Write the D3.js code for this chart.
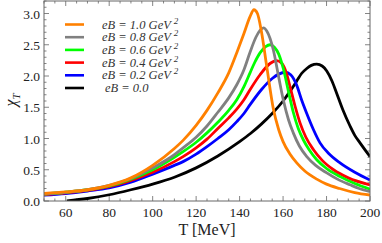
<!DOCTYPE html>
<html>
<head>
<meta charset="utf-8">
<script src="https://cdn.jsdelivr.net/npm/d3@7"></script>
<style>
  body { margin: 0; background: #fff; }
  svg { display: block; font-family: "Liberation Serif", "DejaVu Serif", serif; }
</style>
</head>
<body>
<div id="chart"></div>
<script>
var svgWidth = 382;
var svgHeight = 243;

// plot frame
var margin = { top: 1, right: 12, bottom: 42, left: 44 };
var width = svgWidth - margin.left - margin.right;
var height = svgHeight - margin.top - margin.bottom;

// legend labels (eB values), colours in the same order
var fieldLabels = ["1.0", "0.8", "0.6", "0.4", "0.2", "0.0"];
var colors = ["#ff8000", "#808080", "#00ff00", "#ff0000", "#0000ff", "#000000"];

// chi_T vs T [MeV]
var eB10 = [[50,0.12],[60,0.145],[70,0.18],[80,0.25],[90,0.37],[100,0.57],[110,0.84],[114,0.97],[120,1.21],[125,1.45],[130,1.73],[135,2.05],[139,2.4],[142,2.68],[144.8,2.95],[146.6,3.06],[148.2,3.0],[150,2.72],[152.5,2.15],[155.5,1.48],[158,1.14],[160,0.95],[163,0.76],[166.3,0.61],[170,0.48],[175.5,0.35],[180,0.27],[186,0.2],[193,0.135],[200,0.096]];
var eB08 = [[50,0.11],[60,0.14],[70,0.18],[80,0.25],[90,0.36],[100,0.53],[110,0.74],[114,0.85],[120,1.02],[125,1.2],[130,1.42],[135,1.65],[138.7,1.86],[142,2.1],[144.8,2.38],[147.5,2.62],[149.4,2.73],[151,2.77],[152.5,2.72],[155.5,2.42],[158,1.98],[160.1,1.62],[162.5,1.3],[164.7,1.09],[167.5,0.88],[170.9,0.71],[175,0.57],[180.1,0.45],[185,0.35],[190.8,0.26],[195,0.2],[200,0.15]];
var eB06 = [[50,0.11],[60,0.14],[70,0.18],[80,0.24],[90,0.35],[100,0.5],[110,0.7],[114,0.79],[120,0.94],[125,1.09],[130,1.26],[135,1.45],[138.7,1.62],[142,1.83],[144.8,2.05],[147,2.22],[149.4,2.37],[152,2.47],[154,2.5],[156,2.46],[158,2.35],[160.1,2.12],[162.5,1.75],[164.7,1.42],[167,1.16],[169.3,0.98],[172,0.82],[175.5,0.66],[180,0.52],[186.2,0.39],[193,0.28],[200,0.19]];
var eB04 = [[50,0.1],[60,0.13],[70,0.17],[80,0.23],[90,0.33],[100,0.46],[110,0.63],[114,0.71],[120,0.85],[125,0.99],[130,1.16],[135,1.33],[138.7,1.47],[142,1.62],[144.8,1.78],[149.4,2.02],[154,2.2],[157,2.245],[159.5,2.2],[161.5,2.05],[163.2,1.83],[165.5,1.52],[167.8,1.25],[170.5,1.02],[174,0.82],[178,0.65],[183.2,0.5],[190,0.37],[200,0.256]];
var eB02 = [[50,0.095],[60,0.12],[70,0.16],[80,0.21],[90,0.3],[100,0.43],[110,0.57],[114,0.63],[120,0.75],[125,0.87],[130,1.0],[135,1.14],[138.7,1.27],[142,1.4],[145,1.55],[150,1.78],[155,1.96],[158,2.03],[161,2.06],[163.5,2.02],[166.3,1.85],[168.5,1.62],[170.9,1.4],[174,1.14],[177,0.93],[181,0.76],[186.2,0.61],[193,0.46],[200,0.336]];
var eB00 = [[60.5,0.0],[70,0.04],[80,0.1],[90,0.18],[100,0.27],[110,0.38],[120,0.53],[130,0.72],[140,0.95],[145,1.08],[150,1.23],[155,1.4],[160,1.6],[163.5,1.77],[166.3,1.92],[168.5,2.04],[170.9,2.12],[173,2.17],[175.5,2.19],[178,2.16],[180.1,2.08],[182.5,1.92],[184.7,1.72],[187.5,1.46],[190.8,1.2],[193,1.05],[195.4,0.93],[200,0.71]];

var seriesData = [eB10, eB08, eB06, eB04, eB02, eB00];

var xTicks = [60, 80, 100, 120, 140, 160, 180, 200];
var yTicks = [0.0, 0.5, 1.0, 1.5, 2.0, 2.5, 3.0];

var svg = d3.select("#chart")
  .append("svg")
  .attr("width", svgWidth)
  .attr("height", svgHeight);

var chartGroup = svg.append("g")
  .attr("transform", `translate(${margin.left}, ${margin.top})`);

var xScale = d3.scaleLinear().domain([50, 200]).range([0, width]);
var yScale = d3.scaleLinear().domain([0, 3.2]).range([height, 0]);

svg.append("defs").append("clipPath")
  .attr("id", "clip")
  .append("rect")
  .attr("width", width)
  .attr("height", height);

// ticks pointing inward, on all four sides (Mathematica style frame)
var frameColor = "#666";
var xMinor = d3.range(50, 201, 5);
var yMinor = d3.range(0, 3.21, 0.1);

function tickSet(g, isMajor) {
  var len = isMajor ? 5 : 2.5;
  var xs = isMajor ? xTicks : xMinor.filter(v => v % 20 !== 0);
  var ys = isMajor ? yTicks : yMinor.filter(v => Math.abs(v * 2 - Math.round(v * 2)) > 0.01);
  xs.forEach(function (v) {
    g.append("line").attr("x1", xScale(v)).attr("x2", xScale(v)).attr("y1", height).attr("y2", height - len);
    g.append("line").attr("x1", xScale(v)).attr("x2", xScale(v)).attr("y1", 0).attr("y2", len);
  });
  ys.forEach(function (v) {
    g.append("line").attr("x1", 0).attr("x2", len).attr("y1", yScale(v)).attr("y2", yScale(v));
    g.append("line").attr("x1", width).attr("x2", width - len).attr("y1", yScale(v)).attr("y2", yScale(v));
  });
}

var tickGroup = chartGroup.append("g")
  .attr("stroke", frameColor)
  .attr("stroke-width", 0.8);
tickSet(tickGroup, true);
tickSet(tickGroup, false);

// tick labels
chartGroup.append("g")
  .selectAll("text")
  .data(xTicks)
  .enter()
  .append("text")
  .attr("x", d => xScale(d))
  .attr("y", height + 15.5)
  .attr("text-anchor", "middle")
  .attr("font-size", 13.5)
  .attr("fill", "#222")
  .text(d => d);

chartGroup.append("g")
  .selectAll("text")
  .data(yTicks)
  .enter()
  .append("text")
  .attr("x", -4)
  .attr("y", d => yScale(d) + 5)
  .attr("text-anchor", "end")
  .attr("font-size", 13.5)
  .attr("fill", "#222")
  .text(d => d.toFixed(1));

// curves
var line = d3.line()
  .x(d => xScale(d[0]))
  .y(d => yScale(d[1]))
  .curve(d3.curveMonotoneX);

var curveGroup = chartGroup.append("g").attr("clip-path", "url(#clip)");
// black drawn first, orange last (on top)
for (var i = seriesData.length - 1; i >= 0; i--) {
  curveGroup.append("path")
    .attr("d", line(seriesData[i]))
    .attr("fill", "none")
    .attr("stroke", colors[i])
    .attr("stroke-width", 2.8)
    .attr("stroke-linejoin", "round");
}

// frame
chartGroup.append("rect")
  .attr("width", width)
  .attr("height", height)
  .attr("fill", "none")
  .attr("stroke", frameColor)
  .attr("stroke-width", 1);

// legend
var legend = chartGroup.append("g")
  .attr("transform", "translate(21, 23.5)");

fieldLabels.forEach(function (lab, i) {
  var row = legend.append("g").attr("transform", `translate(0, ${i * 12.7})`);
  row.append("line")
    .attr("x1", 0).attr("x2", 19)
    .attr("stroke", colors[i])
    .attr("stroke-width", 2.6);
  var t = row.append("text")
    .attr("x", lab === "0.0" ? 40 : 37)
    .attr("y", 4)
    .attr("font-size", 12.5)
    .attr("font-style", "italic")
    .attr("fill", "#333");
  if (lab === "0.0") {
    t.text("eB = 0.0");
  } else {
    t.append("tspan").text(`eB = ${lab} GeV `);
    t.append("tspan").attr("dy", -5).attr("font-size", 9).text("2");
  }
});

// axis titles
svg.append("text")
  .attr("x", margin.left + width / 2)
  .attr("y", 234.5)
  .attr("text-anchor", "middle")
  .attr("font-size", 16)
  .attr("fill", "#222")
  .text("T [MeV]");

var yLab = svg.append("text")
  .attr("transform", "translate(16, 100) rotate(-90)")
  .attr("text-anchor", "middle")
  .attr("font-size", 16)
  .attr("font-style", "italic")
  .attr("fill", "#222");
yLab.append("tspan").text("χ");
yLab.append("tspan").attr("dy", 4).attr("font-size", 11).text("T");
</script>
</body>
</html>
